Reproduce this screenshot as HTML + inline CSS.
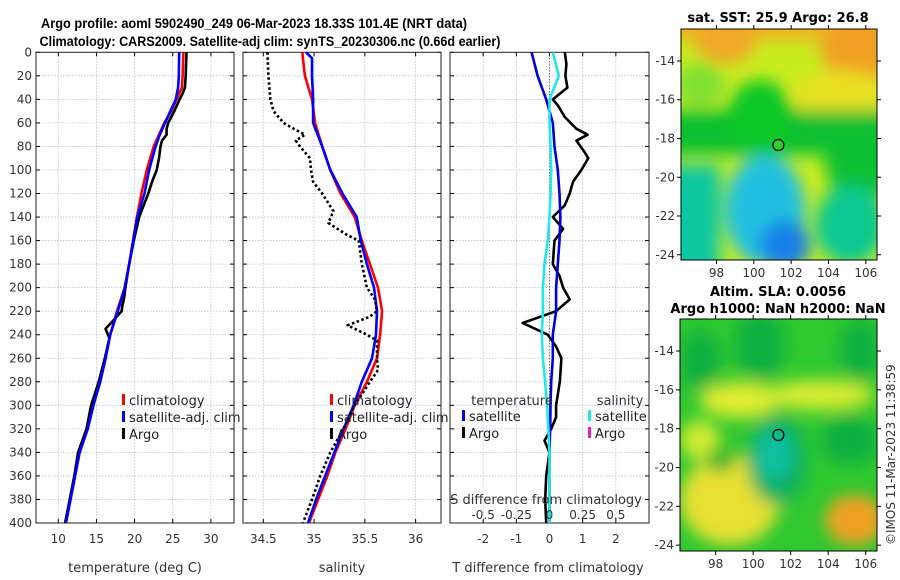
<!DOCTYPE html>
<html><head><meta charset="utf-8"><style>
body{margin:0;background:#fff;}
svg{display:block;font-family:"DejaVu Sans","Liberation Sans",sans-serif;}
.t{font-size:12px;fill:#333;}
.b{font-size:13px;font-weight:bold;fill:#000;}
.bt{font-family:"Liberation Sans",sans-serif;font-size:13.5px;font-weight:bold;fill:#000;}
</style></head><body>
<svg id="s" width="900" height="580" viewBox="0 0 900 580" xmlns="http://www.w3.org/2000/svg">
<defs>
<filter id="bl" x="-20%" y="-20%" width="140%" height="140%"><feGaussianBlur stdDeviation="8"/></filter>
<clipPath id="c1"><rect x="681" y="29" width="196" height="231"/></clipPath>
<clipPath id="c2"><rect x="680" y="319" width="197" height="232"/></clipPath>
</defs>
<text class="bt" x="254" y="28" text-anchor="middle" textLength="426" lengthAdjust="spacingAndGlyphs">Argo profile: aoml 5902490_249 06-Mar-2023 18.33S 101.4E (NRT data)</text>
<text class="bt" x="270" y="46" text-anchor="middle" textLength="461" lengthAdjust="spacingAndGlyphs">Climatology: CARS2009. Satellite-adj clim: synTS_20230306.nc (0.66d earlier)</text>

<g>
<text class="b" x="778" y="22" text-anchor="middle">sat. SST: 25.9 Argo: 26.8</text>
<g clip-path="url(#c1)">
<rect x="681" y="29" width="196" height="231" fill="#c8ec20"/>
<g filter="url(#bl)">
<rect x="660" y="10" width="240" height="30" fill="#f0b020"/>
<ellipse cx="725" cy="42" rx="30" ry="22" fill="#f0a828"/>
<ellipse cx="860" cy="50" rx="40" ry="30" fill="#f0a020"/>
<ellipse cx="840" cy="95" rx="45" ry="25" fill="#e8e020"/>
<ellipse cx="700" cy="85" rx="25" ry="22" fill="#80e030"/>
<rect x="660" y="110" width="250" height="45" fill="#10c030"/>
<ellipse cx="760" cy="115" rx="32" ry="35" fill="#10c828"/>
<ellipse cx="860" cy="160" rx="35" ry="45" fill="#10c030"/>
<rect x="660" y="165" width="60" height="110" fill="#10c8a0"/>
<ellipse cx="765" cy="210" rx="40" ry="55" fill="#20c0e0"/>
<ellipse cx="785" cy="245" rx="25" ry="25" fill="#1880e8"/>
<ellipse cx="850" cy="225" rx="35" ry="40" fill="#10c890"/>
</g>
</g>
<rect x="681" y="29" width="196" height="231" fill="none" stroke="#000" stroke-width="1"/>
<g id="m1ax"></g>
<circle cx="778.4" cy="145" r="5.5" fill="#30d030" stroke="#000" stroke-width="1.2"/>
</g>

<g>
<text class="b" x="778" y="296" text-anchor="middle">Altim. SLA: 0.0056</text>
<text class="b" x="778" y="313" text-anchor="middle">Argo h1000: NaN h2000: NaN</text>
<g clip-path="url(#c2)">
<rect x="680" y="319" width="197" height="232" fill="#30c830"/>
<g filter="url(#bl)">
<ellipse cx="740" cy="400" rx="40" ry="18" fill="#e0ec30"/>
<ellipse cx="820" cy="395" rx="55" ry="15" fill="#d8ec30"/>
<ellipse cx="760" cy="345" rx="25" ry="35" fill="#10b040"/>
<ellipse cx="700" cy="360" rx="20" ry="30" fill="#10b040"/>
<ellipse cx="730" cy="500" rx="50" ry="45" fill="#e8e030"/>
<ellipse cx="700" cy="440" rx="20" ry="20" fill="#d0ec30"/>
<ellipse cx="777" cy="460" rx="30" ry="45" fill="#10b060"/>
<ellipse cx="774" cy="455" rx="18" ry="25" fill="#10c0a0"/>
<ellipse cx="720" cy="460" rx="14" ry="12" fill="#10b030"/>
<ellipse cx="855" cy="520" rx="30" ry="25" fill="#f0a020"/>
<ellipse cx="850" cy="440" rx="30" ry="25" fill="#10b040"/>
<ellipse cx="860" cy="350" rx="20" ry="30" fill="#10b040"/>
</g>
</g>
<rect x="680" y="319" width="197" height="232" fill="none" stroke="#000" stroke-width="1"/>
<g id="m2ax"></g>
<circle cx="778.4" cy="435" r="5.5" fill="none" stroke="#000" stroke-width="1.2"/>
</g>

<text class="t" transform="translate(895,545) rotate(-90)">©IMOS 11-Mar-2023 11:38:59</text>
<g id="plots"></g>
</svg>
<script>
// ---- data ----
const depthT = [0,20,30,40,50,60,70,80,100,120,140,160,180,200,220,240,260,280,300,320,340,360,380,400];
const tempClim = [26.4,26.3,26.2,25.5,24.8,23.9,23.2,22.5,21.6,20.9,20.3,19.8,19.3,18.7,17.7,16.8,16.2,15.5,14.6,13.85,12.8,12.2,11.6,11.0];
const tempSat  = [25.85,25.8,25.7,25.4,24.7,24.0,23.3,22.75,21.9,21.3,20.35,19.8,19.3,18.7,17.8,16.8,16.2,15.5,14.6,13.85,12.8,12.2,11.6,11.0];
const depthA = [0,20,30,35,40,50,60,65,70,75,80,90,100,110,120,130,140,160,180,200,210,215,220,228,235,243,260,280,300,320,340,360,380,400];
const tempArgo = [26.8,26.7,26.6,26.3,25.9,25.2,24.4,24.2,24.2,23.6,23.4,23.2,22.9,22.3,21.8,21.2,20.6,19.9,19.3,18.8,18.6,18.4,18.3,17.2,16.2,16.7,16.1,15.3,14.3,13.7,12.6,12.1,11.5,10.9];
const depthS = [0,5,20,40,60,80,100,120,140,160,180,200,220,240,260,280,300,320,340,360,380,400];
const salClim = [34.885,34.89,34.91,34.98,35.01,35.08,35.16,35.26,35.40,35.47,35.55,35.63,35.67,35.65,35.62,35.52,35.40,35.31,35.21,35.13,35.04,34.95];
const salSat  = [34.92,34.98,34.98,34.99,34.99,35.08,35.16,35.28,35.42,35.46,35.52,35.59,35.62,35.61,35.57,35.47,35.39,35.29,35.20,35.11,35.02,34.94];
const depthSA = [0,20,40,50,60,65,70,75,80,90,100,110,120,135,145,155,160,180,200,210,220,225,232,240,245,260,270,280,300,320,340,360,380,400];
const salArgo = [34.54,34.55,34.57,34.60,34.70,34.80,34.91,34.82,34.86,34.96,34.97,34.99,35.08,35.19,35.14,35.32,35.44,35.47,35.52,35.60,35.62,35.54,35.33,35.52,35.62,35.62,35.63,35.55,35.40,35.29,35.16,35.06,34.98,34.89];
const depthD = [0,20,40,60,80,100,120,140,160,180,200,220,240,260,280,300,320,340,360,380,400];
const tDiffSat = [-0.54,-0.36,-0.1,0.1,0.15,0.25,0.3,0.33,0.3,0.25,0.2,0.2,0.1,0.1,0.05,0.03,0.02,0,0,0,0];
const sDiffSat = [0.025,0.07,0.0,0.0,0.008,0.013,0.008,0.0,-0.013,-0.038,-0.05,-0.05,-0.058,-0.05,-0.033,-0.018,-0.008,0,0,0,0];
const depthDA = [0,10,20,30,40,45,55,65,70,75,85,90,100,110,120,130,140,150,160,180,190,200,210,220,230,240,250,260,280,300,310,320,330,340,360,380,400];
const tDiffArgo = [0.46,0.51,0.48,0.54,0.1,0.25,0.46,0.81,1.15,0.81,1.06,1.17,0.96,0.71,0.61,0.46,0.1,0.41,0.15,0.1,0.3,0.41,0.61,0.2,-0.81,-0.05,0.2,0.36,0.31,0.2,0.2,0.05,-0.15,0,-0.1,-0.13,-0.1];
const depthTicks = [0,20,40,60,80,100,120,140,160,180,200,220,240,260,280,300,320,340,360,380,400];
const tTicks = [10,15,20,25,30];
const sTicks = [34.5,35,35.5,36];
const dTicks = [-2,-1,0,1,2];
const sdTicks = [-0.5,-0.25,0,0.25,0.5];
const lonTicks = [98,100,102,104,106];
const latTicks = [-14,-16,-18,-20,-22,-24];

const NS='http://www.w3.org/2000/svg';
const root=document.getElementById('plots');
function mk(tag,attrs,parent){const e=document.createElementNS(NS,tag);for(const k in attrs)e.setAttribute(k,attrs[k]);(parent||root).appendChild(e);return e;}
const yTop=52.3,yBot=523;
const yD=d=>yTop+(d/400)*(yBot-yTop);
function lin(d0,d1,r0,r1){return v=>r0+(v-d0)/(d1-d0)*(r1-r0);}

function panel(name,x0,x1,xmin,xmax,ticks,fmt,leftLabels){
  const g=mk('g',{});
  
  
  const sx=lin(xmin,xmax,x0,x1);
  depthTicks.forEach(d=>{const y=yD(d);
    if(d>0&&d<400){const l=mk('line',{x1:x0,x2:x1,y1:y,y2:y,stroke:'#b8c0dc','stroke-width':0.8,'stroke-dasharray':'1.5 1.5'},g);
      }
    mk('line',{x1:x0,x2:x0+4,y1:y,y2:y,stroke:'#000'},g);mk('line',{x1:x1-4,x2:x1,y1:y,y2:y,stroke:'#000'},g);
    if(leftLabels){const t=mk('text',{x:x0-4,y:y+4,'text-anchor':'end',class:'t'},g);t.textContent=d;
      }
  });
  ticks.forEach(v=>{const x=sx(v);
    const l=mk('line',{x1:x,x2:x,y1:yTop,y2:yBot,stroke:'#b8c0dc','stroke-width':0.8,'stroke-dasharray':'1.5 1.5'},g);
    
    mk('line',{x1:x,x2:x,y1:yBot-4,y2:yBot,stroke:'#000'},g);mk('line',{x1:x,x2:x,y1:yTop,y2:yTop+4,stroke:'#000'},g);
    const t=mk('text',{x:x,y:yBot+20,'text-anchor':'middle',class:'t'},g);t.textContent=fmt(v);
    
  });
  const r=mk('rect',{x:x0,y:yTop,width:x1-x0,height:yBot-yTop,fill:'none',stroke:'#222','stroke-width':1},g);
  
  return {g,sx};
}
function line(p,depths,vals,color,name,dash,sx){
  const sxf=sx||p.sx;
  const pts=depths.map((d,i)=>sxf(vals[i]).toFixed(1)+','+yD(d).toFixed(1)).join(' ');
  const a={points:pts,fill:'none',stroke:color,'stroke-width':2.6,'stroke-linejoin':'round'};
  if(dash)a['stroke-dasharray']=dash;
  const e=mk('polyline',a,p.g);
  
  
}
function legend(p,x,items){
  items.forEach((it,i)=>{const y=400+i*17;
    mk('rect',{x:x,y:y-6,width:3,height:11,fill:it[1]},p.g);
    const t=mk('text',{x:x+7,y:y+5,class:'t',style:'font-size:13px;fill:#222'},p.g);t.textContent=it[0];
    
  });
}
function label(text,x,y,name,g){const t=mk('text',{x:x,y:y,'text-anchor':'middle',class:'t',style:'font-size:13px'},g);t.textContent=text;
  }

// Panel 1 temperature
const p1=panel('temperature-panel',36,234,7.08,33.03,tTicks,v=>v,true);
line(p1,depthT,tempClim,'#f00','temp-climatology-line');
line(p1,depthA,tempArgo,'#000','temp-argo-line');
line(p1,depthT,tempSat,'#00f','temp-satellite-line');
legend(p1,122,[['climatology','#f00'],['satellite-adj. clim','#00f'],['Argo','#000']]);
label('temperature (deg C)',135,572,'temperature-axis-title',p1.g);

// Panel 2 salinity
const p2=panel('salinity-panel',243,441,34.3,36.25,sTicks,v=>v,false);
line(p2,depthS,salClim,'#f00','sal-climatology-line');
line(p2,depthS,salSat,'#00f','sal-satellite-line');
line(p2,depthSA,salArgo,'#000','sal-argo-line','2.5 2.5');
legend(p2,330,[['climatology','#f00'],['satellite-adj. clim','#00f'],['Argo','#000']]);
label('salinity',342,572,'salinity-axis-title',p2.g);

// Panel 3 differences
const p3=panel('difference-panel',450,649,-3,3,dTicks,v=>v,false);
const sxS=lin(-0.75,0.75,450,649);
const zl=mk('line',{x1:p3.sx(0),x2:p3.sx(0),y1:yTop,y2:yBot,stroke:'#444','stroke-width':1,'stroke-dasharray':'1 2'},p3.g);

line(p3,depthDA,tDiffArgo,'#000','tdiff-argo-line');
line(p3,depthD,tDiffSat,'#00d','tdiff-satellite-line');
line(p3,depthD,sDiffSat,'#20e8e8','sdiff-satellite-line',null,sxS);
label('temperature',512,405,'legend-temperature-heading',p3.g);
label('salinity',620,405,'legend-salinity-heading',p3.g);
[[462,'#00f','satellite',416],[462,'#000','Argo',433],[588,'#20e8e8','satellite',416],[588,'#e020c0','Argo',433]].forEach(a=>{
  mk('rect',{x:a[0],y:a[3]-6,width:3,height:11,fill:a[1]},p3.g);
  const t=mk('text',{x:a[0]+7,y:a[3]+5,class:'t',style:'font-size:13px;fill:#222'},p3.g);t.textContent=a[2];
  
});
label('S difference from climatology',546,504,'sdiff-axis-title',p3.g);
sdTicks.forEach(v=>{const t=mk('text',{x:sxS(v),y:519,'text-anchor':'middle',class:'t'},p3.g);t.textContent=v;
  });
label('T difference from climatology',548,572,'tdiff-axis-title',p3.g);

// map axes
function mapAxes(id,x0,x1,y0,y1,lon0,lon1,lat0,lat1){
  const g=document.getElementById(id);
  const sx=lin(lon0,lon1,x0,x1), sy=lin(lat0,lat1,y0,y1);
  lonTicks.forEach(v=>{const x=sx(v);
    mk('line',{x1:x,x2:x,y1:y1,y2:y1+4,stroke:'#000'},g);mk('line',{x1:x,x2:x,y1:y0-4,y2:y0,stroke:'#000'},g);
    const t=mk('text',{x:x,y:y1+17,'text-anchor':'middle',class:'t'},g);t.textContent=v;
    });
  latTicks.forEach(v=>{const y=sy(v);
    mk('line',{x1:x0-4,x2:x0,y1:y,y2:y,stroke:'#000'},g);mk('line',{x1:x1,x2:x1+4,y1:y,y2:y,stroke:'#000'},g);
    const t=mk('text',{x:x0-6,y:y+4,'text-anchor':'end',class:'t'},g);t.textContent=v;
    });
}
mapAxes('m1ax',681,877,29,260,96.1,106.6,-12.35,-24.27);
mapAxes('m2ax',680,877,319,551,96.1,106.6,-12.35,-24.3);
</script>
</body></html>
